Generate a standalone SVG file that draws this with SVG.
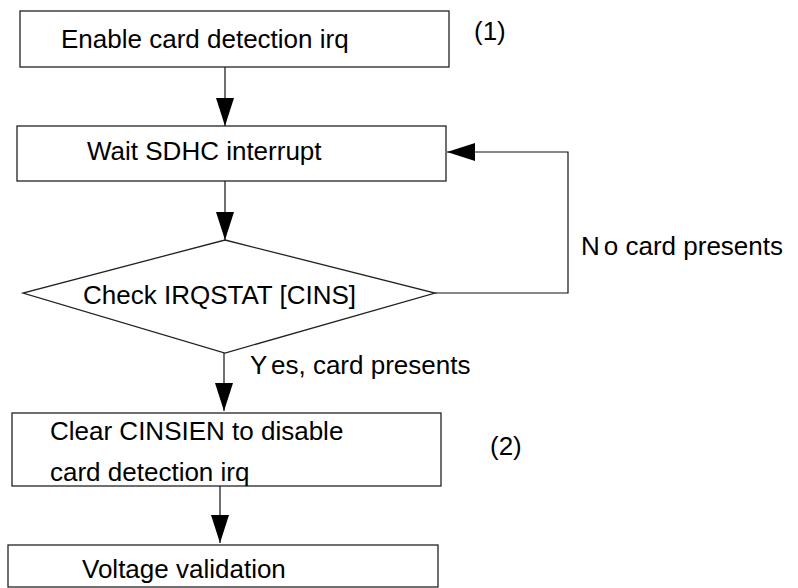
<svg xmlns="http://www.w3.org/2000/svg" width="798" height="588" viewBox="0 0 798 588">
<style>
.box{fill:#fff;stroke:#222;stroke-width:1.3}
.ln{fill:none;stroke:#111;stroke-width:1.2}
text{font-family:"Liberation Sans",Arial,sans-serif;font-size:26px;fill:#000}
</style>
<defs>
<marker id="ah" markerWidth="28" markerHeight="18" refX="28" refY="9" orient="auto" markerUnits="userSpaceOnUse">
<path d="M0,0 L28,9 L0,18 Z" fill="#000"/>
</marker>
</defs>
<rect width="798" height="588" fill="#fff"/>
<g id="connectors">
<line class="ln" x1="225" y1="67" x2="225" y2="126" marker-end="url(#ah)"/>
<line class="ln" x1="225" y1="181" x2="225" y2="240" marker-end="url(#ah)"/>
<polyline class="ln" points="435,293 568,293 568,152 447,152" marker-end="url(#ah)"/>
<line class="ln" x1="224" y1="353" x2="224" y2="411" marker-end="url(#ah)"/>
<line class="ln" x1="220" y1="486" x2="220" y2="543" marker-end="url(#ah)"/>
<text x="581" y="255">N<tspan dx="4">o card presents</tspan></text>
<text x="250" y="374">Y<tspan dx="6">es, card presents</tspan></text>
</g>
<g id="enable">
<rect class="box" x="20" y="11" width="429" height="56"/>
<text x="61" y="48">Enable card detection irq</text>
</g>
<text id="note1" x="474" y="40">(1)</text>
<g id="wait">
<rect class="box" x="17" y="126" width="429" height="55"/>
<text x="87" y="160">Wait SDHC interrupt</text>
</g>
<g id="check">
<polygon class="box" points="225,240 435,293 225,353 23,293"/>
<text x="83" y="304">Check IRQSTAT [CINS]</text>
</g>
<g id="clear">
<rect class="box" x="12" y="413" width="429" height="73"/>
<text x="50" y="440">Clear CINSIEN to disable</text>
<text x="50" y="481">card detection irq</text>
</g>
<text id="note2" x="490" y="455">(2)</text>
<g id="voltage">
<rect class="box" x="8" y="545" width="430" height="42"/>
<text x="82" y="578">Voltage validation</text>
</g>
</svg>
